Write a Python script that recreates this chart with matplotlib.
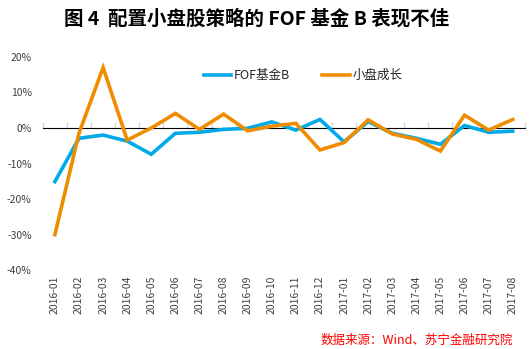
import matplotlib
matplotlib.use("Agg")
import matplotlib.pyplot as plt
import numpy as np
from matplotlib.ticker import FuncFormatter

plt.rcParams['font.family'] = ['Noto Sans CJK SC', 'DejaVu Sans']

months = ['2016-01', '2016-02', '2016-03', '2016-04', '2016-05', '2016-06', '2016-07',
          '2016-08', '2016-09', '2016-10', '2016-11', '2016-12', '2017-01', '2017-02',
          '2017-03', '2017-04', '2017-05', '2017-06', '2017-07', '2017-08']
fof_b = [-15.1, -2.9, -2.0, -3.7, -7.4, -1.5, -1.2, -0.4, -0.1, 1.7, -0.6, 2.4, -3.9,
         1.8, -1.5, -2.9, -4.6, 0.7, -1.2, -0.9]
small_growth = [-30.0, -1.5, 17.0, -3.4, 0.0, 4.1, -0.4, 3.9, -0.8, 0.5, 1.3, -6.2, -4.1,
                2.3, -1.7, -3.2, -6.5, 3.6, -0.6, 2.4]

blue = '#00A9E8'
orange = '#F08C00'
grey = '#404040'

fig = plt.figure(figsize=(5.29, 3.49), dpi=100)
ax = fig.add_axes([0.081, 0.226, 0.911, 0.611])

x = np.arange(len(months))
ax.plot(x, fof_b, color=blue, lw=2.6, label='FOF基金B', solid_joinstyle='miter')
ax.plot(x, small_growth, color=orange, lw=2.6, label='小盘成长', solid_joinstyle='miter')

ax.set_xlim(-0.5, len(months) - 0.5)
ax.set_ylim(-40, 20)
ax.set_yticks(np.arange(-40, 21, 10))
ax.yaxis.set_major_formatter(FuncFormatter(lambda v, p: f'{v:.0f}%'))

for s in ax.spines.values():
    s.set_visible(False)

ax.set_xticks(x)
ax.set_xticklabels(months, rotation=90, fontsize=7.5, color=grey)
ax.tick_params(axis='x', length=0, pad=4)
ax.tick_params(axis='y', length=0, labelsize=7.5, labelcolor=grey, pad=8)

# zero line with category boundary ticks
zero_frac = (0 - (-40)) / (20 - (-40))
sec = ax.secondary_xaxis(zero_frac)
sec.set_xticks(np.arange(len(months) + 1) - 0.5)
sec.set_xticklabels([])
sec.tick_params(axis='x', length=4, color='#D9D9D9', width=1)
sec.spines['bottom'].set_color('#D9D9D9')
sec.spines['bottom'].set_linewidth(1)

leg = fig.legend(*ax.get_legend_handles_labels(), loc='center left',
                 bbox_to_anchor=(0.385, 0.783), ncol=2, frameon=False,
                 fontsize=9, handlelength=2.2, columnspacing=2.6, handletextpad=0.2,
                 borderaxespad=0, borderpad=0)
for t in leg.get_texts():
    t.set_color('#262626')

fig.text(0.485, 0.945, '图 4  配置小盘股策略的 FOF 基金 B 表现不佳', ha='center', va='center',
         fontsize=14, fontweight='bold', color='black')
fig.text(0.97, 0.026, '数据来源：Wind、苏宁金融研究院', ha='right', va='center',
         fontsize=9, color='#FF0000', style='italic')

fig.savefig('out.png', dpi=100)
